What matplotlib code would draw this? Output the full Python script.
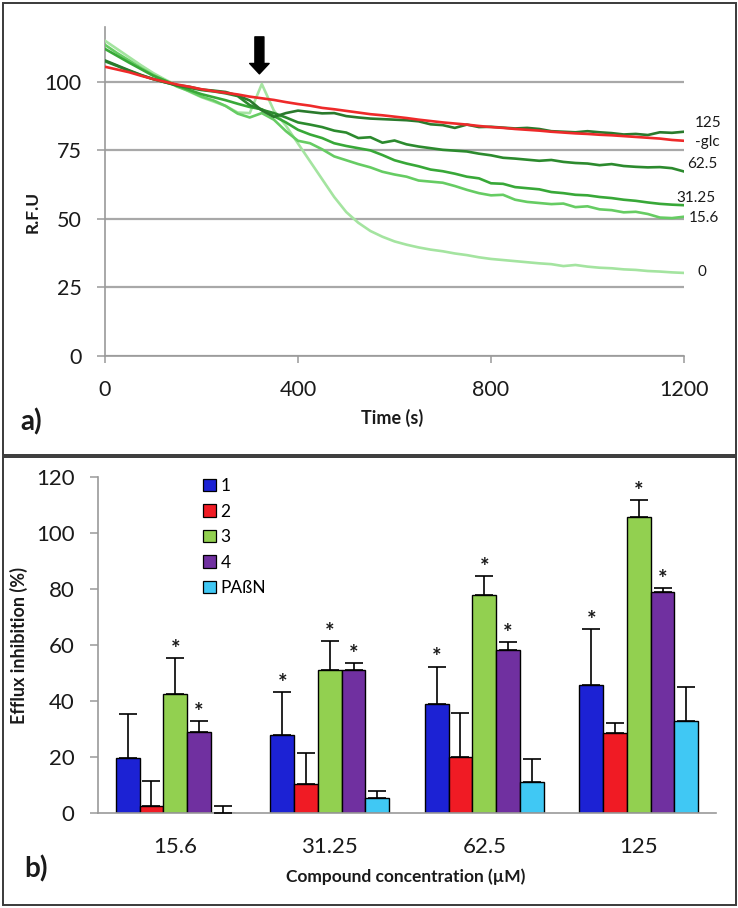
import matplotlib
matplotlib.use("Agg")
import matplotlib.pyplot as plt
from matplotlib.patches import Patch, Rectangle
import numpy as np

plt.rcParams["font.family"] = ["Lato", "DejaVu Sans"]

# ---- panel a): fluorescence traces (R.F.U vs time) ----
time_s = [0, 25, 50, 75, 100, 125, 150, 175, 200, 225, 250, 275, 300, 325,
          350, 375, 400, 425, 450, 475, 500, 525, 550, 575, 600, 625, 650,
          675, 700, 725, 750, 775, 800, 825, 850, 875, 900, 925, 950, 975,
          1000, 1025, 1050, 1075, 1100, 1125, 1150, 1175, 1200]

rfu_glc = [105.5, 104.5, 103.5, 102.2, 101.0, 100.0, 99.0, 98.2, 97.3, 96.6,
           96.0, 95.4, 94.6, 94.0, 93.4, 92.6, 91.9, 91.3, 90.5, 90.0, 89.4,
           88.8, 88.2, 87.8, 87.3, 86.8, 86.2, 85.7, 85.2, 84.8, 84.4, 83.9,
           83.5, 83.2, 82.8, 82.5, 82.2, 81.8, 81.5, 81.2, 81.0, 80.7, 80.5,
           80.2, 79.9, 79.6, 79.3, 78.8, 78.5]
rfu_125 = [107.8, 106.0, 104.2, 102.5, 101.0, 99.8, 98.8, 98.2, 97.2, 96.8,
           96.3, 95.0, 93.2, 89.6, 87.2, 88.6, 89.5, 89.0, 88.5, 88.6, 87.5,
           87.0, 86.6, 86.4, 86.2, 86.0, 85.6, 84.5, 84.2, 83.2, 84.4, 83.5,
           83.6, 83.3, 83.0, 83.2, 82.8, 82.0, 81.8, 81.6, 82.0, 81.6, 81.3,
           80.8, 81.0, 80.6, 81.6, 81.4, 81.8]
rfu_62_5 = [107.5, 105.8, 104.0, 102.4, 101.0, 99.8, 98.6, 97.8, 97.0, 96.5,
            95.8, 94.8, 91.5, 89.8, 88.6, 87.0, 85.2, 84.4, 83.5, 82.2, 81.5,
            79.5, 79.8, 77.8, 78.6, 77.2, 76.4, 75.8, 75.2, 74.9, 74.6, 73.8,
            73.2, 72.3, 72.0, 71.6, 71.2, 71.5, 70.8, 70.4, 70.2, 69.6, 70.0,
            69.3, 69.0, 68.8, 68.9, 68.5, 67.3]
rfu_31_25 = [112.0, 109.5, 107.0, 104.6, 102.2, 100.4, 98.6, 97.0, 95.5, 94.4,
             93.3, 92.0, 90.8, 90.0, 87.5, 85.2, 82.5, 80.8, 79.5, 77.6, 76.6,
             75.8, 75.0, 73.3, 71.4, 70.2, 69.2, 68.0, 67.4, 66.5, 65.4, 64.8,
             63.0, 62.8, 61.6, 61.2, 60.8, 59.8, 59.4, 58.8, 58.6, 58.0, 57.6,
             57.0, 56.6, 56.0, 55.5, 55.2, 55.0]
rfu_15_6 = [113.5, 110.5, 107.8, 105.0, 102.5, 100.4, 98.2, 96.6, 94.6, 93.2,
            91.2, 88.4, 87.0, 88.6, 86.2, 82.0, 78.5, 77.6, 75.4, 72.8, 71.4,
            70.0, 68.8, 67.2, 66.2, 65.4, 64.0, 63.6, 63.2, 62.0, 60.6, 59.4,
            58.6, 58.8, 57.0, 56.2, 55.8, 55.4, 55.6, 54.3, 54.6, 53.5, 53.2,
            52.4, 52.6, 51.8, 50.5, 50.3, 50.8]
rfu_0 = [115.0, 112.0, 109.0, 106.0, 103.2, 100.8, 98.6, 96.4, 94.4, 92.8,
         91.2, 88.8, 88.6, 99.2, 89.5, 84.0, 77.5, 71.0, 64.5, 58.0, 52.5,
         48.6, 45.6, 43.5, 41.8, 40.6, 39.6, 38.8, 38.2, 37.4, 36.8, 36.0,
         35.4, 35.0, 34.6, 34.2, 33.8, 33.5, 32.8, 33.2, 32.6, 32.2, 32.0,
         31.6, 31.4, 31.0, 30.8, 30.5, 30.3]

trace_names = ["0", "15.6", "31.25", "62.5", "125", "-glc"]
trace_values = [rfu_0, rfu_15_6, rfu_31_25, rfu_62_5, rfu_125, rfu_glc]
trace_colors = ["#a4e4a0", "#66cc63", "#38a838", "#2c8a2e", "#2a7a2c", "#ee2a2a"]
addition_time = 320

# ---- panel b): efflux inhibition bars ----
concentrations = ["15.6", "31.25", "62.5", "125"]
series_names = ["1", "2", "3", "4", "PAßN"]
inhib_1 = [19.6, 27.9, 38.9, 45.6]
inhib_2 = [2.6, 10.3, 19.9, 28.5]
inhib_3 = [42.6, 51.0, 77.8, 105.6]
inhib_4 = [29.1, 51.0, 58.3, 79.0]
inhib_pabn = [0.0, 5.5, 10.9, 32.7]
err_1 = [15.8, 15.3, 13.4, 20.0]
err_2 = [8.9, 11.0, 15.9, 3.6]
err_3 = [12.6, 10.4, 6.7, 6.2]
err_4 = [3.9, 2.5, 2.6, 1.3]
err_pabn = [2.6, 2.4, 8.5, 12.3]
signif_1 = [False, True, True, True]
signif_2 = [False, False, False, False]
signif_3 = [True, True, True, True]
signif_4 = [True, True, True, True]
signif_pabn = [False, False, False, False]
bar_colors = ["#1c22d4", "#f01b24", "#92d050", "#7030a0", "#40c8f4"]

W, H = 738, 908
fig = plt.figure(figsize=(W / 100, H / 100), dpi=100)


def px_box(left, top, right, bottom):
    return [left / W, (H - bottom) / H, (right - left) / W, (bottom - top) / H]


def fig_text(x, y, s, **kw):
    fig.text(x / W, (H - y) / H, s, **kw)


text_col = "#1a1a1a"
axis_col = "#9a9a9a"

# panel frames
for top, bottom in [(3, 455), (457, 905)]:
    fig.add_artist(Rectangle((3 / W, (H - bottom) / H), 733 / W, (bottom - top) / H,
                             transform=fig.transFigure, fill=False,
                             edgecolor="#3a3a3a", lw=1.4))

# ---------------- a) ----------------
ax1 = fig.add_axes(px_box(105, 27, 684, 356))
for name, vals, col in zip(trace_names, trace_values, trace_colors):
    ax1.plot(time_s, vals, color=col, lw=1.9, solid_joinstyle="round", zorder=3)

ax1.set_xlim(0, 1200)
ax1.set_ylim(0, 120)
ax1.set_xticks([0, 400, 800, 1200])
ax1.set_yticks([0, 25, 50, 75, 100])
ax1.yaxis.grid(True, color="#a8a8a8", lw=1.6)
ax1.set_axisbelow(True)
for s in ["top", "right"]:
    ax1.spines[s].set_visible(False)
for s in ["left", "bottom"]:
    ax1.spines[s].set_color(axis_col)
    ax1.spines[s].set_linewidth(1.2)
ax1.tick_params(axis="y", length=6, width=1.1, color=axis_col, pad=11,
                labelsize=15.5, labelcolor=text_col)
ax1.tick_params(axis="x", length=5, width=1.1, color=axis_col, pad=12,
                labelsize=15.5, labelcolor=text_col)

# end-of-trace labels
label_pos = {"125": (1223, 85.0), "-glc": (1223, 78.2), "62.5": (1206, 70.2),
             "31.25": (1185, 57.8), "15.6": (1210, 50.2), "0": (1227, 30.5)}
for name in trace_names:
    x, y = label_pos[name]
    ax1.text(x, y, name, fontsize=11, color=text_col, va="center", ha="left",
             clip_on=False)

# addition arrow
ax1.annotate("", xy=(addition_time, 102.9), xytext=(addition_time, 116.4),
             arrowprops=dict(facecolor="black", edgecolor="black", width=6.5,
                             headwidth=14, headlength=7.5, shrink=0))

fig_text(33, 212, "R.F.U", rotation=90, fontsize=12.5, fontweight="bold",
         ha="center", va="center", color=text_col)
fig_text(392, 418, "Time (s)", fontsize=13, fontweight="bold",
         ha="center", va="center", color=text_col)
fig_text(20, 422, "a)", fontsize=20, fontweight="bold",
         ha="left", va="center", color=text_col)

# ---------------- b) ----------------
ax2 = fig.add_axes(px_box(98, 477, 716, 813))
values = [inhib_1, inhib_2, inhib_3, inhib_4, inhib_pabn]
errors = [err_1, err_2, err_3, err_4, err_pabn]
signif = [signif_1, signif_2, signif_3, signif_4, signif_pabn]
xc = np.arange(len(concentrations))
bw = 0.154
for j, (name, vals, errs, sig, col) in enumerate(
        zip(series_names, values, errors, signif, bar_colors)):
    xs = xc + (j - 2) * bw
    ax2.bar(xs, vals, width=bw, color=col, edgecolor="black", lw=1.0,
            label=name, zorder=2)
    ax2.errorbar(xs, vals, yerr=[np.zeros(len(vals)), errs], fmt="none",
                 ecolor="black", elinewidth=1.2, capsize=6.5, capthick=1.2,
                 zorder=3)
    for x, v, e, s in zip(xs, vals, errs, sig):
        if s:
            ax2.annotate("*", (x, v + e), xytext=(0, 1.5),
                         textcoords="offset points", ha="center",
                         va="baseline", fontsize=16, fontweight="bold",
                         color=text_col)

ax2.set_xlim(-0.5, 3.5)
ax2.set_ylim(0, 120)
ax2.set_yticks(range(0, 121, 20))
ax2.set_xticks(xc)
ax2.set_xticklabels(concentrations)
for s in ["top", "right"]:
    ax2.spines[s].set_visible(False)
for s in ["left", "bottom"]:
    ax2.spines[s].set_color(axis_col)
    ax2.spines[s].set_linewidth(1.2)
ax2.tick_params(axis="y", length=6, width=1.1, color=axis_col, pad=11,
                labelsize=16, labelcolor=text_col)
ax2.tick_params(axis="x", length=0, pad=17, labelsize=16, labelcolor=text_col)

handles = [Patch(facecolor=c, edgecolor="black", lw=0.9) for c in bar_colors]
ax2.legend(handles, series_names, loc="upper left",
           bbox_to_anchor=(203 / W, (H - 478) / H),
           bbox_transform=fig.transFigure, frameon=False, fontsize=12.5,
           handlelength=0.75, handleheight=0.7, handletextpad=0.25,
           labelspacing=0.55, borderpad=0, borderaxespad=0)

fig_text(19, 646, "Efflux inhibition (%)", rotation=90, fontsize=13,
         fontweight="bold", ha="center", va="center", color=text_col)
fig_text(406, 877, "Compound concentration (µM)", fontsize=12.5,
         fontweight="bold", ha="center", va="center", color=text_col)
fig_text(24, 869, "b)", fontsize=20, fontweight="bold",
         ha="left", va="center", color=text_col)

fig.savefig("out.png", dpi=100)
